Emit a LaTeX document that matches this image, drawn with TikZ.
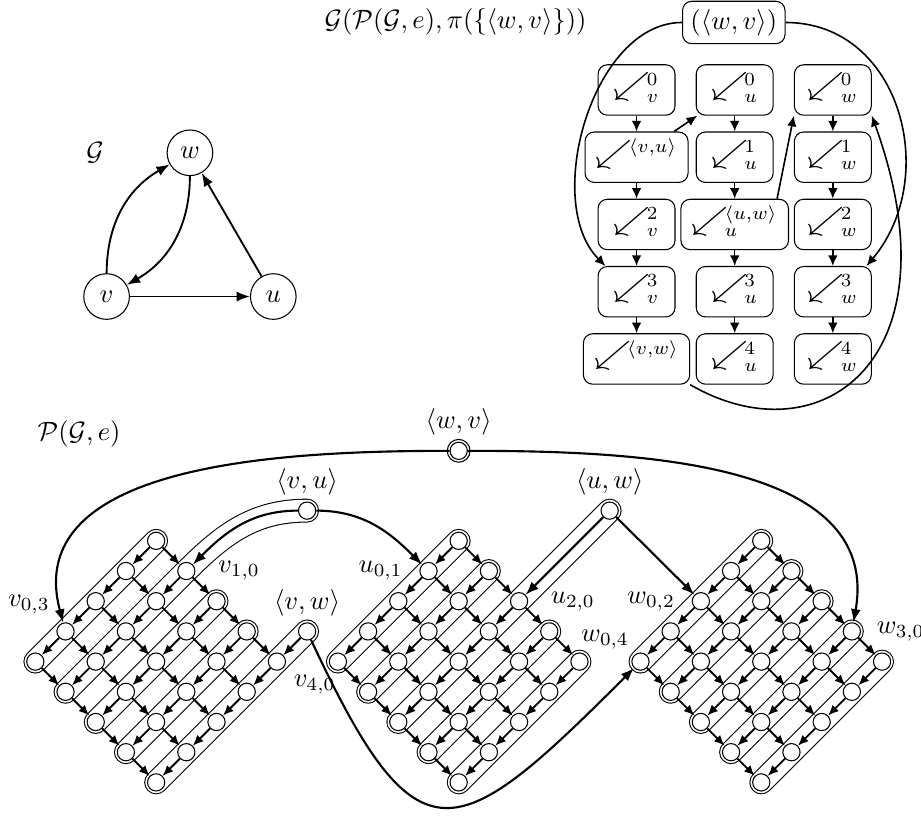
\documentclass[tikz,border=0pt]{standalone}
\usepackage{amsmath,amssymb,graphicx}
\usetikzlibrary{positioning,calc,arrows.meta}
\pgfdeclarelayer{background}
\pgfsetlayers{background,main}
\newcommand{\sw}{\mathord{\makebox[12.5pt][l]{\raisebox{0pt}[6pt][2.3pt]{\scalebox{1.4}[1.2]{$\swarrow$}}}}}
\tikzset{dot/.style={circle, draw, fill=white, inner sep=0pt, minimum size=6.5pt}}
\tikzset{tube/.style={draw, double, double distance=8.2pt, line cap=round}}
\tikzset{ring/.style={draw}}
\tikzset{stp/.style={draw, line width=0.7pt, -{Latex[length=4pt,width=3.4pt]}}}
\tikzset{link/.style={draw, thick, -{Latex[length=5pt,width=3.8pt]}}}
\tikzset{vert/.style={circle, draw, minimum size=17.2pt, inner sep=0pt}}
\tikzset{garr/.style={draw, line width=0.7pt, -{Latex[length=5pt,width=3.8pt]}}}
\tikzset{cell/.style={draw, rounded corners=3.5pt, minimum width=29pt, inner xsep=4pt, inner ysep=3.5pt, text height=7.8pt, text depth=4.2pt}}
\tikzset{carr/.style={draw, semithick, -{Latex[length=4pt,width=3.6pt]}}}

\begin{document}
\begin{tikzpicture}[x=0.4cm, y=0.4cm]
	\useasboundingbox (0,0) rectangle (30.5,-27.05);
	% the graph G
	\node[vert] (w) at (6.29,-5.06) {$w$};
	\node[vert] (v) at (3.53,-9.82) {$v$};
	\node[vert] (u) at (9.05,-9.82) {$u$};
	\node (G) at (3.15,-5.07) {$\mathcal{G}$};
	\draw[garr] (v) to[bend left=30] (w);
	\draw[garr] (w) to[bend left=30] (v);
	\draw[garr] (v) -- (u);
	\draw[garr] (u) -- (w);

	% its quotient
	\node[anchor=east, inner sep=0pt] (title) at (19.44,-0.72)
		{$\mathcal{G}(\mathcal{P}(\mathcal{G},e),\pi(\{\langle w,v\rangle\}))$};
	\node[draw, rounded corners=3.5pt, inner sep=3pt] (top) at (24.3,-0.745) {$(\langle w,v\rangle)$};
	\node[cell] (cv0) at (21.08,-2.98) {$\sw^{0}_{v}$};
	\node[cell] (cv1) at (21.08,-5.207) {$\sw^{\langle v,u\rangle}$};
	\node[cell] (cv2) at (21.08,-7.434) {$\sw^{2}_{v}$};
	\node[cell] (cv3) at (21.08,-9.661) {$\sw^{3}_{v}$};
	\node[cell] (cv4) at (21.08,-11.888) {$\sw^{\langle v,w\rangle}$};
	\node[cell] (cu0) at (24.33,-2.98) {$\sw^{0}_{u}$};
	\node[cell] (cu1) at (24.33,-5.207) {$\sw^{1}_{u}$};
	\node[cell] (cu2) at (24.33,-7.434) {$\sw^{\langle u,w\rangle}_{u}$};
	\node[cell] (cu3) at (24.33,-9.661) {$\sw^{3}_{u}$};
	\node[cell] (cu4) at (24.33,-11.888) {$\sw^{4}_{u}$};
	\node[cell] (cw0) at (27.58,-2.98) {$\sw^{0}_{w}$};
	\node[cell] (cw1) at (27.58,-5.207) {$\sw^{1}_{w}$};
	\node[cell] (cw2) at (27.58,-7.434) {$\sw^{2}_{w}$};
	\node[cell] (cw3) at (27.58,-9.661) {$\sw^{3}_{w}$};
	\node[cell] (cw4) at (27.58,-11.888) {$\sw^{4}_{w}$};
	\foreach \c in {v,u,w}
		\foreach \r [count=\s] in {0,...,3}
			\draw[carr] (c\c\r) -- (c\c\s);
	\draw[carr] (cv1) -- (cu0);
	\draw[carr] ([xshift=-4.5pt]cu2.north east) -- (cw0.south west);
	\draw[carr] (top.west) to[out=180, in=135, looseness=0.9] ([xshift=3pt]cv3.north west);
	\draw[carr] (top.east) to[out=0, in=50, looseness=1.15] ([xshift=-2pt]cw3.north east);
	\draw[carr] (cv4.south east) .. controls (27.15,-15.23) and (31.79,-11.92) .. (cw0.south east);

	% the product P(G,e)
	\node (P) at (2.62,-14.37) {$\mathcal{P}(\mathcal{G},e)$};
	\foreach \g/\x in {v/5.17, u/15.19, w/25.21}
		\foreach \a in {0,...,4}
			\foreach \b in {0,...,4}
				\node[dot] (\g-\a-\b) at ({\x+\a-\b},{-17.91-\a-\b}) {};
	\node[dot] (vu) at (10.17,-16.91) {};
	\node[dot] (vw) at (10.17,-20.91) {};
	\node[dot] (uw) at (20.19,-16.91) {};
	\node[dot] (wv) at (15.19,-14.93) {};
	\node[above=-1.2pt of vu] (lvu) {$\langle v,u\rangle$};
	\node[above=-1.2pt of vw] (lvw) {$\langle v,w\rangle$};
	\node[above=-1.2pt of uw] (luw) {$\langle u,w\rangle$};
	\node[above=-1.2pt of wv] (lwv) {$\langle w,v\rangle$};
	\node[above left=0.4pt and 0pt of v-0-3] (lv03) {$v_{0,3}$};
	\node[right=5pt of v-1-0] (lv10) {$v_{1,0}$};
	\node[below right=-1pt and 0.4pt of v-4-0] (lv40) {$v_{4,0}$};
	\node[left=2.8pt of u-0-1] (lu01) {$u_{0,1}$};
	\node[right=5pt of u-2-0] (lu20) {$u_{2,0}$};
	\node[left=2.8pt of w-0-2] (lw02) {$w_{0,2}$};
	\node[above left=-1.4pt and -1.6pt of w-0-4] (lw04) {$w_{0,4}$};
	\node[right=2.4pt of w-3-0] (lw30) {$w_{3,0}$};
	\begin{pgfonlayer}{background}
		\foreach \g/\a in {v/0,v/2,v/3,u/0,u/1,u/3,u/4,w/0,w/1,w/2,w/3,w/4}
			\draw[tube] (\g-\a-0.center) -- (\g-\a-4.center);
		\draw[tube] (vu.center) to[out=180, in=45] (v-1-0.center) -- (v-1-4.center);
		\draw[tube] (vw.center) -- (v-4-4.center);
		\draw[tube] (uw.center) -- (u-2-4.center);
		\draw[ring] (wv.center) circle[radius=4.3pt];
	\end{pgfonlayer}
	\foreach \g in {v,u,w}
		\foreach \a in {0,...,4}
			\foreach \b [count=\c] in {0,...,3} {
				\draw[stp] (\g-\a-\b) -- (\g-\a-\c);
				\draw[stp] (\g-\b-\a) -- (\g-\c-\a);
			}
	\draw[link] (vu) to[out=180, in=45] (v-1-0);
	\draw[link] (vu) to[out=0, in=135] (u-0-1);
	\draw[stp] (vw) -- (v-4-0);
	\draw[link] (vw) to[out=-65, in=225, looseness=2] (w-0-4);
	\draw[link] (uw) -- (u-2-0);
	\draw[link] (uw) -- (w-0-2);
	\draw[link] (wv) to[out=180, in=105] (v-0-3);
	\draw[link] (wv) to[out=0, in=80] (w-3-0);
\end{tikzpicture}
\end{document}
